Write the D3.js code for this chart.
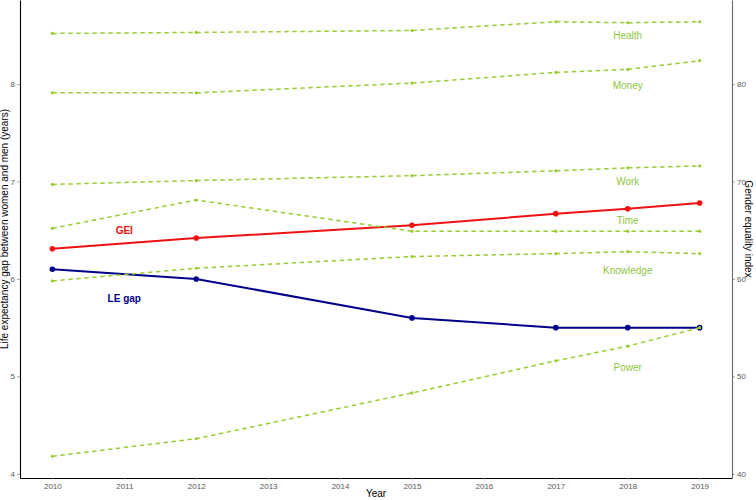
<!DOCTYPE html>
<html>
<head>
<meta charset="utf-8">
<script src="https://cdn.jsdelivr.net/npm/d3@7"></script>
<style>
  html, body { margin: 0; padding: 0; background: #fff; }
  svg { display: block; font-family: "Liberation Sans", Arial, Helvetica, sans-serif; }
</style>
</head>
<body>
<svg id="chart" width="756" height="500"></svg>
<script>
// ---- data ----
const years = [2010, 2012, 2015, 2017, 2018, 2019];
const leGap = [6.1, 6.0, 5.6, 5.5, 5.5, 5.5];           // years (left axis)
const gei = [63.1, 64.2, 65.5, 66.7, 67.2, 67.8];        // index (right axis)
const dimNames = ["Health", "Money", "Work", "Time", "Knowledge", "Power"];
const health = [85.2, 85.3, 85.5, 86.4, 86.3, 86.4];
const money = [79.1, 79.1, 80.1, 81.2, 81.5, 82.4];
const work = [69.7, 70.1, 70.6, 71.1, 71.4, 71.6];
const time = [65.2, 68.1, 64.9, 64.9, 64.9, 64.9];
const knowledge = [59.8, 61.1, 62.3, 62.6, 62.8, 62.6];
const power = [41.8, 43.6, 48.3, 51.6, 53.1, 55.0];
const dimLabelYear = 2018;
const dimLabelValues = [85.0, 79.9, 70.0, 66.0, 60.9, 50.9];
const mainLabels = ["GEI", "LE gap"];
const mainLabelYear = 2011;
const mainLabelValues = [6.5, 5.8];                      // left-axis units
const xTicks = [2010, 2011, 2012, 2013, 2014, 2015, 2016, 2017, 2018, 2019];
const yLeftTicks = [4, 5, 6, 7, 8];
const yRightTicks = [40, 50, 60, 70, 80];
const xTitle = "Year";
const yLeftTitle = "Life expectancy gap between women and men (years)";
const yRightTitle = "Gender equality index";

(function () {
// ---- layout ----
const svg = d3.select("#chart");
const mLeft = 20, mRight = 732, mTop = 0, mBottom = 478;
const green = "#9acd32", red = "#ee1111", blue = "#00008b";

const dims = [health, money, work, time, knowledge, power];
const allLeft = leGap.concat(gei.map(v => v / 10), ...dims.map(d => d.map(v => v / 10)));
const lo = d3.min(allLeft), hi = d3.max(allLeft), pad = (hi - lo) * 0.05;
const xPad = (d3.max(years) - d3.min(years)) * 0.05;

const x = d3.scaleLinear().domain([d3.min(years) - xPad, d3.max(years) + xPad]).range([mLeft, mRight]);
const yL = d3.scaleLinear().domain([lo - pad, hi + pad]).range([mBottom, mTop]);
const yR = d3.scaleLinear().domain([(lo - pad) * 10, (hi + pad) * 10]).range([mBottom, mTop]);

// axes
const tickTextColor = "#5a5a5a";
function styleAxis(g, lineColor) {
  g.selectAll(".tick line").attr("stroke", "#666").attr("stroke-width", 0.6);
  g.selectAll(".tick text").attr("fill", tickTextColor).attr("font-size", 8)
    .attr("font-family", "Liberation Sans, Arial, sans-serif");
  g.select(".domain").attr("stroke", lineColor).attr("stroke-width", 1.1);
}
const gx = svg.append("g").attr("transform", `translate(0,${mBottom})`)
  .call(d3.axisBottom(x).tickValues(xTicks).tickFormat(d3.format("d")).tickSize(3).tickSizeOuter(0).tickPadding(2));
styleAxis(gx, "#000");
gx.selectAll(".tick line").attr("stroke", "#ccc");

const gyl = svg.append("g").attr("transform", `translate(${mLeft},0)`)
  .call(d3.axisLeft(yL).tickValues(yLeftTicks).tickFormat(d3.format("d")).tickSize(3).tickSizeOuter(0).tickPadding(2));
styleAxis(gyl, "#000");

const gyr = svg.append("g").attr("transform", `translate(${mRight},0)`)
  .call(d3.axisRight(yR).tickValues(yRightTicks).tickFormat(d3.format("d")).tickSize(3).tickSizeOuter(0).tickPadding(2));
styleAxis(gyr, "#666");

// axis titles
svg.append("text").attr("x", (mLeft + mRight) / 2).attr("y", 497).attr("text-anchor", "middle")
  .attr("font-size", 10).attr("fill", "#000").text(xTitle);
svg.append("text").attr("transform", `translate(8,229) rotate(-90)`).attr("text-anchor", "middle")
  .attr("font-size", 10).attr("fill", "#000").text(yLeftTitle);
svg.append("text").attr("transform", `translate(745,229) rotate(90)`).attr("text-anchor", "middle")
  .attr("font-size", 10).attr("fill", "#000").text(yRightTitle);

// main series
const lineL = d3.line().x((d, i) => x(years[i])).y(d => yL(d));
const lineR = d3.line().x((d, i) => x(years[i])).y(d => yR(d));

svg.append("path").attr("d", lineR(gei)).attr("fill", "none").attr("stroke", red).attr("stroke-width", 2);
svg.append("g").selectAll("circle").data(gei).enter().append("circle")
  .attr("cx", (d, i) => x(years[i])).attr("cy", d => yR(d)).attr("r", 2.8).attr("fill", red);

svg.append("path").attr("d", lineL(leGap)).attr("fill", "none").attr("stroke", blue).attr("stroke-width", 2);
svg.append("g").selectAll("circle").data(leGap).enter().append("circle")
  .attr("cx", (d, i) => x(years[i])).attr("cy", d => yL(d)).attr("r", 2.8).attr("fill", blue);

// dimension series
dims.forEach(series => {
  svg.append("path").attr("d", lineR(series)).attr("fill", "none").attr("stroke", green)
    .attr("stroke-width", 1.5).attr("stroke-dasharray", "4.5,3.5");
  svg.append("g").selectAll("circle").data(series).enter().append("circle")
    .attr("cx", (d, i) => x(years[i])).attr("cy", d => yR(d)).attr("r", 1.6).attr("fill", green);
});

// labels
svg.append("g").selectAll("text").data(dimNames).enter().append("text")
  .attr("x", x(dimLabelYear)).attr("y", (d, i) => yR(dimLabelValues[i]))
  .attr("dy", "0.35em").attr("text-anchor", "middle").attr("font-size", 10)
  .attr("fill", "#8dc63f").text(d => d);

svg.append("g").selectAll("text").data(mainLabels).enter().append("text")
  .attr("x", x(mainLabelYear)).attr("y", (d, i) => yL(mainLabelValues[i]))
  .attr("dy", "0.35em").attr("text-anchor", "middle").attr("font-size", 10).attr("font-weight", "bold")
  .attr("fill", (d, i) => i === 0 ? red : blue).text(d => d);
})();
</script>
</body>
</html>
